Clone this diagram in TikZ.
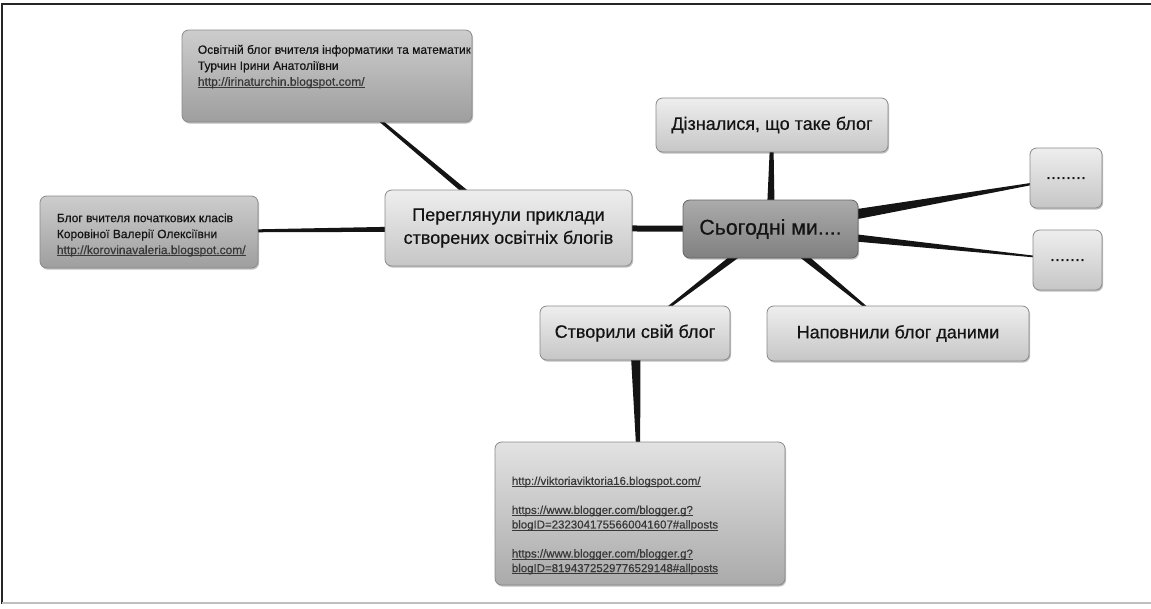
\documentclass[tikz,border=0pt]{standalone}
\usepackage{fontspec}
\setmainfont{Liberation Sans}[BoldFont={Liberation Sans}, BoldFeatures={FakeBold=0.45}]
\usetikzlibrary{calc,backgrounds,shadows}
\definecolor{txt}{HTML}{141414}
\definecolor{lnk}{HTML}{383838}
\definecolor{lighttop}{HTML}{EEEEEE}
\definecolor{lightbot}{HTML}{C6C6C6}
\definecolor{darktop}{HTML}{CDCDCD}
\definecolor{darkbot}{HTML}{9E9E9E}
\definecolor{centop}{HTML}{ABABAB}
\definecolor{cenbot}{HTML}{808080}
\definecolor{bottop}{HTML}{E2E2E2}
\definecolor{botbot}{HTML}{AAAAAA}
\definecolor{edge}{HTML}{8A8A8A}
\newcommand{\mytaper}[4]{%
  \fill[conn] ($(#1)!#3!90:(#2)$) -- ($(#1)!#3!-90:(#2)$) --
    ($(#2)!#4!90:(#1)$) -- ($(#2)!#4!-90:(#1)$) -- cycle;}
\newcommand{\myul}[1]{\setbox0\hbox{#1}\rlap{\rule[-1.3pt]{\wd0}{0.45pt}}\box0}
\begin{document}
\begin{tikzpicture}[x=0.75pt,y=-0.75pt,
  boxbase/.style={rectangle, rounded corners=5pt, draw=edge, line width=0.6pt, inner sep=0pt,
    text=txt, drop shadow={shadow xshift=0.8pt, shadow yshift=-1.2pt, opacity=0.25, fill=black}},
  lightbox/.style={boxbase, top color=lighttop, bottom color=lightbot,
    font={\fontsize{13.5}{17.25}\selectfont\bfseries}, align=center},
  darkbox/.style={boxbase, top color=darktop, bottom color=darkbot},
  centerbox/.style={boxbase, draw=black!60, top color=centop, bottom color=cenbot,
    font={\fontsize{16}{19}\selectfont\bfseries}},
  linkbox/.style={boxbase, top color=bottop, bottom color=botbot},
  smalltext/.style={inner sep=0pt, align=left, text=txt, font={\fontsize{9}{12}\selectfont\bfseries}},
  urltext/.style={inner sep=0pt, align=left, text=lnk, font={\fontsize{8.6}{10.9}\selectfont\bfseries}},
  conn/.style={fill=black!92}
]
\useasboundingbox (0,0) rectangle (1151,608);
% frame
\draw[line width=1.1pt, black!85] (2,604) -- (2,4) -- (1151,4);
\draw[line width=0.8pt, black!25] (2,603) -- (1151,603);

% nodes
\node[centerbox, minimum width=131.25pt, minimum height=43.5pt] (cen) at (770.5,229) {Сьогодні ми....};
\node[lightbox, minimum width=185.25pt, minimum height=57pt] (per) at (508.5,228) {Переглянули приклади\\створених освітніх блогів};
\node[lightbox, minimum width=174pt, minimum height=40.5pt] (diz) at (772,125) {Дізналися, що таке блог};
\node[lightbox, minimum width=54pt, minimum height=45pt] (d1) at (1066,178) {........};
\node[lightbox, minimum width=51.75pt, minimum height=45pt] (d2) at (1067.5,260) {.......};
\node[lightbox, minimum width=142.5pt, minimum height=40.5pt] (stv) at (635,333) {Створили свій блог};
\node[lightbox, minimum width=196.5pt, minimum height=41.25pt] (nap) at (898,333.5) {Наповнили блог даними};
\node[darkbox, minimum width=217.5pt, minimum height=69pt] (tl) at (327,76) {};
\node[darkbox, minimum width=163.5pt, minimum height=54pt] (lb) at (149,232) {};
\node[linkbox, minimum width=217.5pt, minimum height=107.25pt] (bot) at (640,513.5) {};

% texts inside the link boxes
\begin{scope}
  \clip ($(tl.north west)$) rectangle ($(tl.south east)+(-2,0)$);
  \node[smalltext, anchor=north west] (tltext) at ($(tl.north west)+(16,15)$)
    {Освітній блог вчителя інформатики та математики\\
     Турчин Ірини Анатоліївни\\
     \textcolor{lnk}{\myul{http://irinaturchin.blogspot.com/}}};
\end{scope}
\node[smalltext, anchor=west] (lbtext) at ($(lb.west)+(17,3)$)
  {Блог вчителя початкових класів\\
   Коровіної Валерії Олексіївни\\
   \textcolor{lnk}{\myul{http://korovinavaleria.blogspot.com/}}};
\node[urltext, anchor=west] (bottext) at ($(bot.west)+(17,12)$)
  {\myul{http://viktoriaviktoria16.blogspot.com/}\\[10.9pt]
   \myul{https://www.blogger.com/blogger.g?}\\
   \myul{blogID=2323041755660041607\#allposts}\\[10.9pt]
   \myul{https://www.blogger.com/blogger.g?}\\
   \myul{blogID=8194372529776529148\#allposts}};

% tapered connectors
\begin{scope}[on background layer]
  \mytaper{cen}{diz}{3.3pt}{0.86pt}
  \mytaper{cen}{d1}{5.2pt}{0.25pt}
  \mytaper{cen}{d2}{3.7pt}{0.25pt}
  \mytaper{cen}{stv}{3.2pt}{0.2pt}
  \mytaper{cen}{nap}{3.2pt}{0.2pt}
  \mytaper{per}{cen}{2.25pt}{2.25pt}
  \mytaper{per}{lb}{2.6pt}{0.45pt}
  \mytaper{per}{tl}{2.3pt}{0.64pt}
  \mytaper{stv}{bot}{4pt}{0.1pt}
\end{scope}
\end{tikzpicture}
\end{document}
